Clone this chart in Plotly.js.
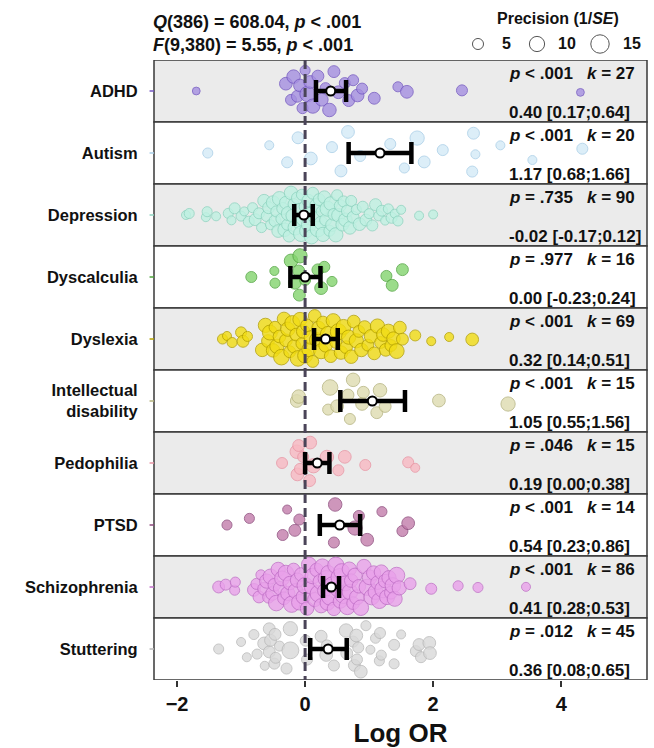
<!DOCTYPE html>
<html>
<head>
<meta charset="utf-8">
<script src="https://cdn.plot.ly/plotly-3.0.1.min.js"></script>
<style>html,body{margin:0;padding:0;background:#fff;}#chart{width:654px;height:748px;}</style>
</head>
<body>
<div id="chart"></div>
<script>
// ---------------- DATA ----------------
const groups = ['ADHD','Autism','Depression','Dyscalculia','Dyslexia','Intellectual<br>disability','Pedophilia','PTSD','Schizophrenia','Stuttering'];

const adhdX    = [-1.70,-0.30,-0.22,-0.18,-0.12,-0.08,-0.04,0.00,0.04,0.08,0.12,0.20,0.26,0.32,0.38,0.45,0.52,0.62,0.68,0.75,0.82,0.89,1.08,1.45,1.59,2.45,4.30];
const adhdPrec = [3,8,6,9,7,8,6,5,12,8,10,7,8,6,9,7,8,6,7,6,8,6,7,5,8,6,3];

const autismX    = [-1.52,-0.56,-0.28,-0.11,0.09,0.42,0.56,0.67,0.86,1.33,1.55,1.75,1.86,2.15,2.61,2.63,2.66,3.05,3.55,4.33];
const autismPrec = [5,4,6,7,8,6,7,8,6,6,5,10,7,6,6,7,4,4,4,6];

const depressionX = [-1.86,-1.81,-1.55,-1.53,-1.39,-1.20,-1.15,-1.10,-1.00,-0.95,-0.88,-0.82,-0.78,-0.72,-0.68,-0.64,-0.60,-0.57,-0.54,-0.50,-0.47,-0.45,-0.42,-0.40,-0.37,-0.35,-0.32,-0.30,-0.28,-0.26,-0.25,-0.22,-0.20,-0.18,-0.15,-0.12,-0.10,-0.08,-0.06,-0.05,-0.03,0.00,0.02,0.05,0.06,0.08,0.10,0.12,0.15,0.18,0.20,0.22,0.25,0.26,0.28,0.30,0.32,0.35,0.38,0.40,0.42,0.45,0.48,0.50,0.52,0.55,0.58,0.60,0.63,0.66,0.70,0.72,0.75,0.80,0.85,0.90,0.95,1.00,1.05,1.10,1.15,1.20,1.25,1.30,1.35,1.40,1.45,1.50,1.78,2.00];
const depressionPrec = [4,5,4,5,4,5,4,6,5,4, 6,5,7,6,5,8,6,7,5,9, 7,6,8,10,6,7,9,8,6,10, 7,9,8,6,11,7,9,8,12,6, 10,7,9,8,11,6,10,7,8,9, 12,7,9,6,10,8,7,11,6,9, 8,7,10,6,9,7,8,6,9,7, 8,6,7,5,8,6,7,5,6,7, 5,6,4,5,6,4,5,4,4,4];

const dyscalculiaX    = [-0.84,-0.48,-0.47,-0.22,-0.16,-0.10,-0.09,-0.08,0.00,0.20,0.25,0.30,0.42,1.27,1.36,1.52];
const dyscalculiaPrec = [6,4,5,9,8,7,7,10,6,7,8,6,5,6,7,7];

const dyslexiaX = [-1.29,-1.22,-1.14,-1.00,-0.97,-0.90,
  -0.67,-0.62,-0.58,-0.55,-0.50,-0.47,-0.44,-0.40,-0.37,-0.33,
  -0.30,-0.27,-0.24,-0.20,-0.17,-0.14,-0.11,-0.08,-0.05,-0.03,
  0.00,0.03,0.06,0.09,0.12,0.15,0.18,0.21,0.25,0.28,
  0.32,0.36,0.40,0.44,0.48,0.52,0.56,0.60,0.64,0.68,
  0.72,0.76,0.80,0.84,0.88,0.93,0.98,1.03,1.08,1.13,
  1.18,1.22,1.26,1.30,1.34,1.38,1.43,1.48,1.52,
  1.72,1.97,2.25,2.61];
const dyslexiaPrec = [5,4,5,6,7,5,
  9,10,8,11,9,7,10,8,12,9, 8,10,7,11,9,8,12,10,7,9, 11,8,10,9,7,8,10,9,11,8,
  9,12,8,10,7,13,9,11,8,10, 9,8,10,7,9,8,7,9,8,10, 7,9,8,10,7,9,11,8,7,
  6,4,4,8];

const intellectualX    = [-0.13,-0.10,0.36,0.39,0.50,0.67,0.70,0.75,0.89,0.91,1.12,1.17,1.25,2.09,3.17];
const intellectualPrec = [8,9,6,12,8,7,6,9,8,7,7,9,7,8,10];

const pedophiliaX    = [-0.36,-0.13,-0.12,-0.10,-0.08,-0.03,0.07,0.08,0.13,0.34,0.52,0.62,0.94,1.61,1.72];
const pedophiliaPrec = [6,9,8,7,6,6,7,8,10,9,6,8,6,6,4];

const ptsdX    = [-1.22,-0.87,-0.35,-0.28,-0.16,-0.09,0.45,0.47,0.78,0.84,0.97,1.20,1.52,1.61];
const ptsdPrec = [5,5,6,4,7,6,6,9,10,6,8,5,6,8];

const schizophreniaX = [-1.35,-1.24,-1.10,-1.09,-0.80,-0.76,-0.72,-0.69,
  -0.64,-0.60,-0.57,-0.54,-0.51,-0.48,-0.45,-0.42,-0.39,-0.36,
  -0.33,-0.30,-0.27,-0.24,-0.21,-0.18,-0.15,-0.12,-0.09,-0.06,
  -0.03,0.00,0.03,0.06,0.09,0.12,0.15,0.18,0.21,0.24,
  0.25,0.27,0.30,0.33,0.35,0.36,0.39,0.42,0.45,0.48,0.51,0.54,
  0.55,0.57,0.60,0.63,0.66,0.69,0.70,0.72,0.75,0.78,0.81,0.84,
  0.87,0.92,0.97,1.01,1.04,1.07,1.10,1.13,1.16,1.19,
  1.22,1.25,1.28,1.31,1.34,1.37,1.40,1.43,1.47,
  1.64,1.97,2.39,2.70,3.45];
const schizophreniaPrec = [7,6,5,5,8,6,7,5,
  8,10,7,11,9,8,12,10,9,11, 8,12,10,9,13,8,11,10,12,9, 10,13,9,11,8,12,10,9,14,11,
  10,12,9,13,11,10,14,12,9,13,11,15, 10,12,14,11,13,10,12,9,8,10,11,9,
  12,10,13,11,12,10,11,9,12,10, 14,9,11,10,8,12,11,13,10,
  7,6,5,5,4];

const stutteringX    = [-1.35,-1.00,-0.91,-0.80,-0.75,-0.64,-0.63,-0.56,-0.56,-0.54,-0.48,-0.47,-0.46,-0.40,-0.29,-0.23,-0.23,0.01,0.03,0.25,0.33,0.34,0.45,0.64,0.65,0.75,0.77,0.80,0.81,0.83,0.87,0.95,1.02,1.10,1.16,1.17,1.19,1.39,1.39,1.50,1.73,1.78,1.81,1.94,1.95];
const stutteringPrec = [5,4,4,5,5,8,4,7,7,7,6,7,6,5,6,10,14,6,6,7,8,6,6,9,7,6,7,8,6,6,8,5,4,5,5,6,5,6,5,4,6,7,6,8,8];

const meanOR  = [0.40,1.17,-0.02,0.00,0.32,1.05,0.19,0.54,0.41,0.36];
const lowerCI = [0.17,0.68,-0.17,-0.23,0.14,0.55,0.00,0.23,0.28,0.08];
const upperCI = [0.64,1.66,0.12,0.24,0.51,1.56,0.38,0.86,0.53,0.65];
const pText   = ['< .001','< .001','= .735','= .977','< .001','< .001','= .046','< .001','< .001','= .012'];
const kValues = [27,20,90,16,69,15,15,14,86,45];
const ciText  = ['0.40 [0.17;0.64]','1.17 [0.68;1.66]','-0.02 [-0.17;0.12]','0.00 [-0.23;0.24]','0.32 [0.14;0.51]','1.05 [0.55;1.56]','0.19 [0.00;0.38]','0.54 [0.23;0.86]','0.41 [0.28;0.53]','0.36 [0.08;0.65]'];
const legendPrec = [5,10,15];
const xTicks = [-2,0,2,4];

const groupX    = [adhdX,autismX,depressionX,dyscalculiaX,dyslexiaX,intellectualX,pedophiliaX,ptsdX,schizophreniaX,stutteringX];
const groupPrec = [adhdPrec,autismPrec,depressionPrec,dyscalculiaPrec,dyslexiaPrec,intellectualPrec,pedophiliaPrec,ptsdPrec,schizophreniaPrec,stutteringPrec];

// ---------------- STYLE ----------------
const fillColors = ['#a58fe0','#d4eaf7','#bff1e2','#83d46e','#f2dd14','#dedcb0','#f8b9c2','#c27cab','#e9a1ea','#d9d9d9'];
const lineColors = ['#7458c2','#a9cfe8','#8fd5c1','#4fa43d','#b5a200','#b5b37e','#e995a4','#8d4a7c','#c170c8','#b9b9b9'];
const FONT = '"Liberation Sans", Arial, Helvetica, sans-serif';
const sizeOf = p => 4.5*Math.sqrt(p);

// ---------------- QUASIRANDOM OFFSETS ----------------
function vdc(n){ let v=0, d=1; while(n>0){ d*=2; v += (n%2)/d; n=Math.floor(n/2);} return v; }
function quantile(s,q){ const h=(s.length-1)*q, lo=Math.floor(h), hi=Math.ceil(h); return s[lo]+(s[hi]-s[lo])*(h-lo); }
function bwNrd0(x){
  const n=x.length, m=x.reduce((a,b)=>a+b,0)/n;
  const sd=Math.sqrt(x.reduce((a,b)=>a+(b-m)*(b-m),0)/(n-1));
  const s=[...x].sort((a,b)=>a-b);
  const iqr=quantile(s,0.75)-quantile(s,0.25);
  let lo=Math.min(sd, iqr/1.34); if(!(lo>0)) lo = sd || 1;
  return 0.9*lo*Math.pow(n,-0.2);
}
function quasi(x, width){
  const bw=bwNrd0(x);
  const dens = t => x.reduce((a,xi)=>a+Math.exp(-0.5*Math.pow((t-xi)/bw,2)),0);
  const mn=Math.min(...x), mx=Math.max(...x);
  let dmax=0; for(let g=0; g<=512; g++){ dmax=Math.max(dmax, dens(mn+(mx-mn)*g/512)); }
  const order = x.map((v,i)=>i).sort((a,b)=>x[a]-x[b] || a-b);
  const off = new Array(x.length);
  order.forEach((idx,r)=>{ off[idx] = (vdc(r+1)-0.5)*2*width*dens(x[idx])/dmax; });
  return off;
}

// ---------------- TRACES ----------------
const traces = [];
groupX.forEach((xs,i)=>{
  const off = quasi(xs, 0.39);
  traces.push({
    type:'scatter', mode:'markers', x:xs, y:off.map(o=>i+o),
    marker:{size:groupPrec[i].map(sizeOf), color:fillColors[i], opacity:0.8, line:{color:lineColors[i], width:1}},
    hoverinfo:'x', showlegend:false
  });
});
traces.push({type:'scatter', mode:'lines', x:[0,0], y:[-0.5,9.5], line:{color:'#4a4458', width:3, dash:'9px,5px'}, hoverinfo:'skip', showlegend:false});
traces.push({
  type:'scatter', mode:'markers', x:meanOR, y:groups.map((g,i)=>i),
  error_x:{type:'data', symmetric:false, array:upperCI.map((u,i)=>u-meanOR[i]), arrayminus:lowerCI.map((l,i)=>meanOR[i]-l), color:'#000', thickness:4.5, width:11},
  marker:{size:9, color:'#fff', line:{color:'#000', width:2}}, showlegend:false, hoverinfo:'x'
});

// ---------------- SHAPES & ANNOTATIONS ----------------
const L=154, R=647, T=60, B=680;
const px2paperX = px => (px-L)/(R-L);
const px2paperY = py => (B-py)/(B-T);
const shapes = [], annotations = [];
groups.forEach((g,i)=>{
  shapes.push({type:'rect', xref:'paper', yref:'y', x0:0, x1:1, y0:i-0.5, y1:i+0.5, fillcolor: i%2===0 ? '#ebebeb' : '#ffffff', line:{color:'#383838', width:1.5}, layer:'below'});
  shapes.push({type:'line', xref:'paper', yref:'y', x0:-0.009, x1:0, y0:i, y1:i, line:{color:lineColors[i], width:1.5}});
  annotations.push({xref:'x', yref:'y', x:3.15, y:i-0.29, xanchor:'left', yanchor:'middle', showarrow:false,
    text:'<i>p</i> '+pText[i]+'\u00a0\u00a0 <i>k</i> = '+kValues[i], font:{family:FONT, size:17, weight:700, color:'#111'}});
  annotations.push({xref:'x', yref:'y', x:3.15, y:i+0.34, xanchor:'left', yanchor:'middle', showarrow:false,
    text:ciText[i], font:{family:FONT, size:17, weight:700, color:'#111'}});
});
annotations.push({xref:'paper', yref:'paper', x:px2paperX(151), y:px2paperY(22), xanchor:'left', yanchor:'middle', showarrow:false,
  text:'<i>Q</i>(386) = 608.04, <i>p</i> < .001', font:{family:FONT, size:18, weight:700, color:'#111'}});
annotations.push({xref:'paper', yref:'paper', x:px2paperX(151), y:px2paperY(45), xanchor:'left', yanchor:'middle', showarrow:false,
  text:'<i>F</i>(9,380) = 5.55, <i>p</i> < .001', font:{family:FONT, size:18, weight:700, color:'#111'}});
annotations.push({xref:'paper', yref:'paper', x:px2paperX(558), y:px2paperY(18), xanchor:'center', yanchor:'middle', showarrow:false,
  text:'Precision (1/<i>SE</i>)', font:{family:FONT, size:16, weight:700, color:'#111'}});
const legCx = [478,537,600], legTx = [506,567,632];
legendPrec.forEach((p,j)=>{
  const r = sizeOf(p)/2 + 0.5;
  shapes.push({type:'circle', xref:'paper', yref:'paper', xsizemode:'pixel', ysizemode:'pixel',
    xanchor:px2paperX(legCx[j]), yanchor:px2paperY(44), x0:-r, x1:r, y0:-r, y1:r,
    fillcolor:'#fff', line:{color:'#555', width:1}});
  annotations.push({xref:'paper', yref:'paper', x:px2paperX(legTx[j]), y:px2paperY(44), xanchor:'center', yanchor:'middle', showarrow:false,
    text:String(p), font:{family:FONT, size:16, weight:700, color:'#111'}});
});

const layout = {
  width:654, height:748,
  margin:{l:L, r:654-R, t:T, b:748-B},
  paper_bgcolor:'#fff', plot_bgcolor:'#fff',
  showlegend:false,
  font:{family:FONT, color:'#111'},
  xaxis:{range:[-2.36,5.34], tickvals:xTicks, ticks:'outside', ticklen:6, tickwidth:1.5, tickcolor:'#333',
    tickfont:{family:FONT, size:20, weight:700, color:'#111'}, showgrid:false, zeroline:false, showline:false,
    title:{text:'Log OR', font:{family:FONT, size:26, weight:700, color:'#111'}, standoff:13}, automargin:false},
  yaxis:{range:[9.5,-0.5], tickvals:groups.map((g,i)=>i), ticktext:groups, ticks:'outside', ticklen:4, tickcolor:'rgba(0,0,0,0)',
    tickfont:{family:FONT, size:16.5, weight:700, color:'#111'}, showgrid:false, zeroline:false, showline:false, automargin:false, ticklabelstandoff:8},
  shapes:shapes, annotations:annotations
};
Plotly.newPlot('chart', traces, layout, {displayModeBar:false, staticPlot:true});
</script>
</body>
</html>
